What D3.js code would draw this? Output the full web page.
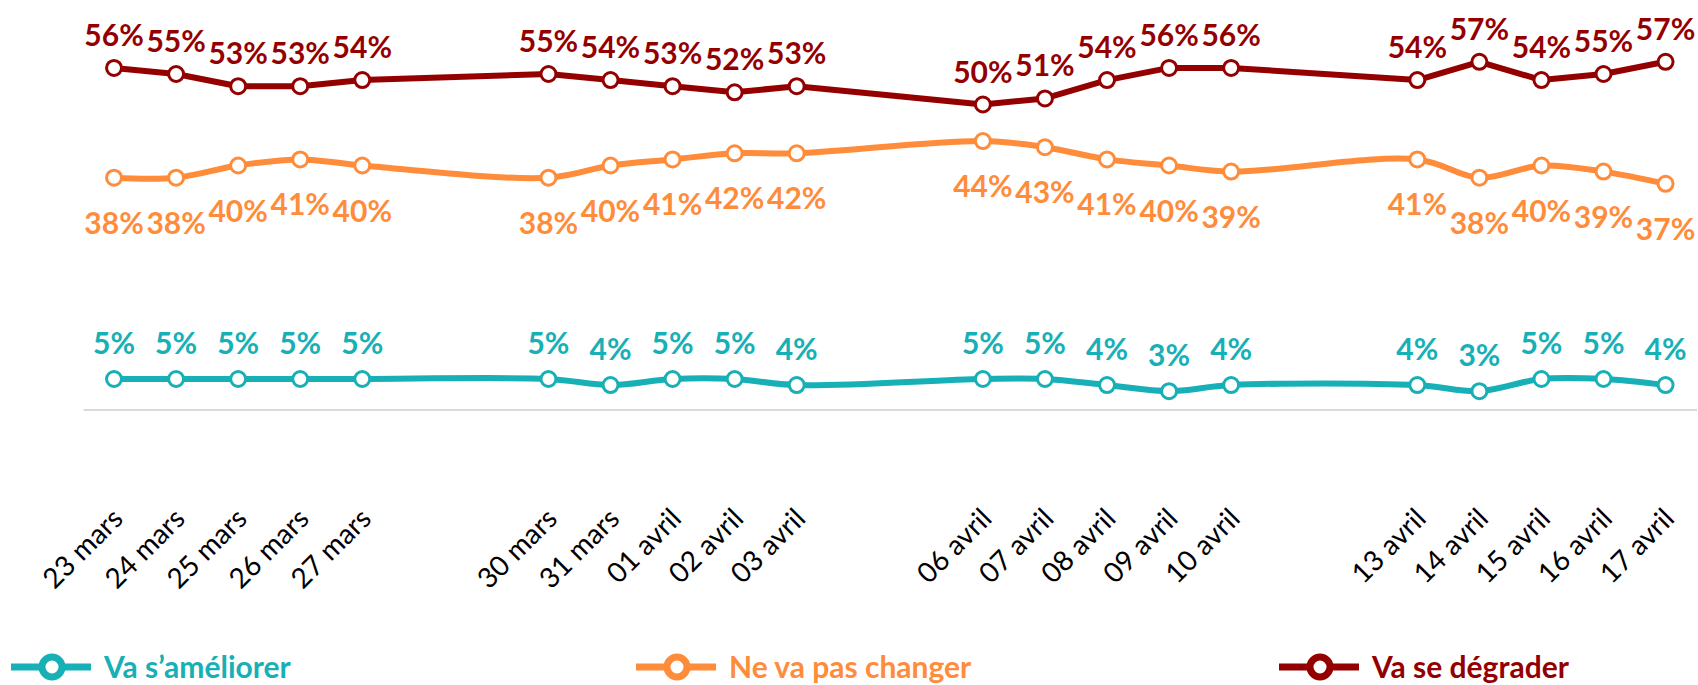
<!DOCTYPE html>
<html>
<head>
<meta charset="utf-8">
<script src="https://cdnjs.cloudflare.com/ajax/libs/d3/7.8.5/d3.min.js"></script>
<style>
  body { margin: 0; background: #fff; }
  svg { display: block; font-family: Lato, "Open Sans", sans-serif; }
</style>
</head>
<body>
<script>
// dates des vagues (jours ouvrés)
var dates = ["2020-03-23","2020-03-24","2020-03-25","2020-03-26","2020-03-27",
             "2020-03-30","2020-03-31","2020-04-01","2020-04-02","2020-04-03",
             "2020-04-06","2020-04-07","2020-04-08","2020-04-09","2020-04-10",
             "2020-04-13","2020-04-14","2020-04-15","2020-04-16","2020-04-17"];
var tickLabels = ["23 mars","24 mars","25 mars","26 mars","27 mars",
                  "30 mars","31 mars","01 avril","02 avril","03 avril",
                  "06 avril","07 avril","08 avril","09 avril","10 avril",
                  "13 avril","14 avril","15 avril","16 avril","17 avril"];

var ameliorer = [5,5,5,5,5, 5,4,5,5,4, 5,5,4,3,4, 4,3,5,5,4];
var pasChanger = [38,38,40,41,40, 38,40,41,42,42, 44,43,41,40,39, 41,38,40,39,37];
var degrader = [56,55,53,53,54, 55,54,53,52,53, 50,51,54,56,56, 54,57,54,55,57];

var seriesNames = ["Va s\u2019améliorer", "Ne va pas changer", "Va se dégrader"];

var width = 1698, height = 685;
var parseDay = d3.utcParse("%Y-%m-%d");
var days = dates.map(parseDay);

var svg = d3.select("body").append("svg")
    .attr("width", width)
    .attr("height", height);

// demi-journée de marge de chaque côté
var x = d3.scaleUtc()
    .domain([d3.utcHour.offset(days[0], -12), d3.utcHour.offset(days[days.length - 1], 12)])
    .range([83, 1696.6]);

var y = d3.scaleLinear()
    .domain([0, 60])
    .range([409.5, 43.5]);

//--------------------------------axe X---------------------------------
var xAxis = d3.axisBottom(x)
    .tickValues(days)
    .tickSize(0)
    .tickFormat(function(d, i) { return tickLabels[i]; });

var gx = svg.append("g")
    .attr("transform", "translate(0," + y(0) + ")")
    .call(xAxis);

gx.select(".domain")
    .attr("stroke", "#d9d9d9")
    .attr("stroke-width", 2);

gx.selectAll(".tick text")
    .attr("fill", "#000")
    .style("font-family", "Lato, 'Open Sans', sans-serif")
    .style("font-size", "28px")
    .attr("text-anchor", "end")
    .attr("dy", "0.35em")
    .attr("y", 0)
    .attr("transform", "translate(3,104) rotate(-45)");

//--------------------------------séries---------------------------------
var series = [
  { name: seriesNames[2], values: degrader,  color: "#940000", curve: d3.curveLinear,     labelDy: -22 },
  { name: seriesNames[1], values: pasChanger, color: "#ff8c3a", curve: d3.curveCatmullRom, labelDy: 56 },
  { name: seriesNames[0], values: ameliorer, color: "#16b0b6", curve: d3.curveCatmullRom, labelDy: -25 }
];

series.forEach(function(s) {
  var line = d3.line()
      .x(function(d, i) { return x(days[i]); })
      .y(function(d) { return y(d); })
      .curve(s.curve);

  var g = svg.append("g");

  g.append("path")
      .datum(s.values)
      .attr("fill", "none")
      .attr("stroke", s.color)
      .attr("stroke-width", 6)
      .attr("stroke-linejoin", "round")
      .attr("d", line);

  g.selectAll("circle")
      .data(s.values)
      .join("circle")
      .attr("cx", function(d, i) { return x(days[i]); })
      .attr("cy", function(d) { return y(d); })
      .attr("r", 7.5)
      .attr("fill", "#fff")
      .attr("stroke", s.color)
      .attr("stroke-width", 3);

  g.selectAll("text")
      .data(s.values)
      .join("text")
      .attr("x", function(d, i) { return x(days[i]); })
      .attr("y", function(d) { return y(d) + s.labelDy; })
      .attr("text-anchor", "middle")
      .attr("fill", s.color)
      .style("font-size", "30px")
      .style("font-weight", "bold")
      .text(function(d) { return d + "%"; });
});

//--------------------------------légende---------------------------------
var legendItems = [
  { name: seriesNames[0], color: "#16b0b6", x0: 11 },
  { name: seriesNames[1], color: "#ff8c3a", x0: 636 },
  { name: seriesNames[2], color: "#940000", x0: 1279 }
];

var legend = svg.append("g");
legendItems.forEach(function(d) {
  var lg = legend.append("g").attr("transform", "translate(" + d.x0 + ",667)");
  lg.append("line")
      .attr("x1", 0).attr("x2", 80)
      .attr("stroke", d.color)
      .attr("stroke-width", 7);
  lg.append("circle")
      .attr("cx", 41)
      .attr("r", 10)
      .attr("fill", "#fff")
      .attr("stroke", d.color)
      .attr("stroke-width", 7);
  lg.append("text")
      .attr("x", 93)
      .attr("y", 11)
      .attr("fill", d.color)
      .style("font-size", "30px")
      .style("font-weight", "bold")
      .text(d.name);
});
</script>
</body>
</html>
